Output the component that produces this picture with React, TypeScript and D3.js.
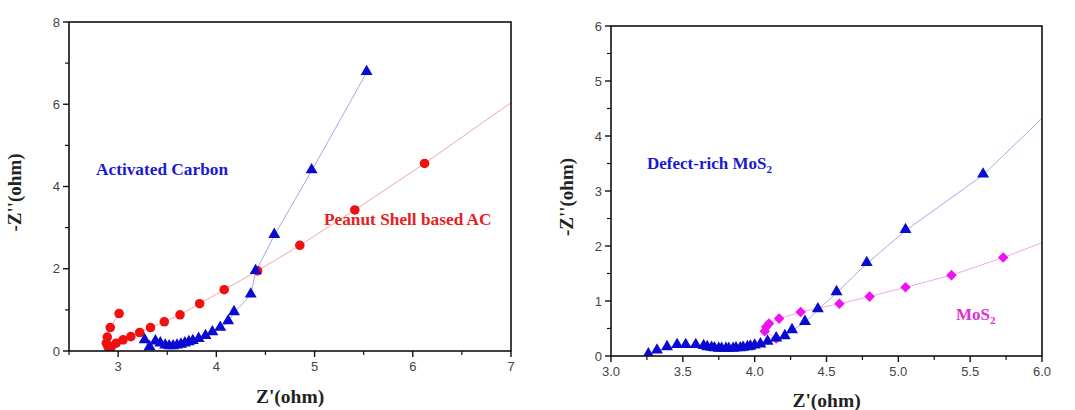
import React from 'react';
import * as d3 from 'd3';

// left panel: Activated Carbon (blue triangles) / Peanut Shell based AC (red circles)
const carbonX = [3.27, 3.32, 3.38, 3.43, 3.48, 3.52, 3.56, 3.60, 3.64, 3.68, 3.72, 3.76, 3.82, 3.89, 3.96, 4.04, 4.12, 4.18, 4.35, 4.40, 4.59, 4.97, 5.53];
const carbonY = [0.25, 0.08, 0.22, 0.17, 0.12, 0.10, 0.10, 0.12, 0.14, 0.17, 0.20, 0.23, 0.28, 0.35, 0.44, 0.55, 0.71, 0.93, 1.36, 1.93, 2.81, 4.38, 6.77];
const peanutX = [3.01, 2.92, 2.89, 2.88, 2.90, 2.93, 2.98, 3.05, 3.13, 3.22, 3.33, 3.47, 3.63, 3.83, 4.08, 4.42, 4.85, 5.41, 6.12, 7.5];
const peanutY = [0.91, 0.57, 0.34, 0.19, 0.09, 0.10, 0.19, 0.27, 0.35, 0.45, 0.57, 0.71, 0.88, 1.15, 1.49, 1.95, 2.57, 3.43, 4.56, 6.88];

// right panel: Defect-rich MoS2 (blue triangles) / MoS2 (magenta diamonds)
const defectX = [3.26, 3.32, 3.39, 3.46, 3.52, 3.59, 3.645, 3.67, 3.70, 3.72, 3.75, 3.77, 3.80, 3.82, 3.85, 3.87, 3.90, 3.92, 3.95, 3.97, 4.00, 4.04, 4.09, 4.15, 4.21, 4.26, 4.35, 4.44, 4.57, 4.78, 5.05, 5.59, 6.25];
const defectY = [0.02, 0.09, 0.15, 0.19, 0.19, 0.19, 0.17, 0.15, 0.14, 0.13, 0.12, 0.12, 0.12, 0.12, 0.12, 0.13, 0.13, 0.14, 0.15, 0.16, 0.18, 0.20, 0.25, 0.31, 0.35, 0.46, 0.61, 0.84, 1.15, 1.68, 2.28, 3.29, 4.95];
const mosX = [4.15, 4.07, 4.08, 4.10, 4.17, 4.32, 4.59, 4.80, 5.05, 5.37, 5.73, 6.3];
const mosY = [0.32, 0.45, 0.53, 0.59, 0.68, 0.80, 0.95, 1.08, 1.25, 1.47, 1.79, 2.36];

const leftXTicks = [3, 4, 5, 6, 7];
const leftXMinor = [2.5, 3.5, 4.5, 5.5, 6.5];
const leftYTicks = [0, 2, 4, 6, 8];
const leftYMinor = [1, 3, 5, 7];
const rightXTicks = [3.0, 3.5, 4.0, 4.5, 5.0, 5.5, 6.0];
const rightXMinor = [3.25, 3.75, 4.25, 4.75, 5.25, 5.75];
const rightYTicks = [0, 1, 2, 3, 4, 5, 6];
const rightYMinor = [0.5, 1.5, 2.5, 3.5, 4.5, 5.5];

const serif = '"Liberation Serif", "Times New Roman", serif';
const sans = '"Liberation Sans", Arial, sans-serif';

type Series = {
  xs: number[];
  ys: number[];
  color: string;
  line: string;
  shape: 'circle' | 'triangle' | 'diamond';
};

const symbolFor = {
  circle: d3.symbol().type(d3.symbolCircle).size(72),
  triangle: d3.symbol().type(d3.symbolTriangle).size(62),
  diamond: d3.symbol().type(d3.symbolSquare).size(56),
};

function Panel(props: {
  id: string;
  left: number; top: number; width: number; height: number;
  xDomain: [number, number]; yDomain: [number, number];
  xTicks: number[]; xMinor: number[]; yTicks: number[]; yMinor: number[];
  xFmt: (d: number) => string;
  yTitleOffset: number; xTitleY: number;
  series: Series[];
  children?: React.ReactNode;
}) {
  const { left, top, width, height } = props;
  const x = d3.scaleLinear().domain(props.xDomain).range([left, left + width]);
  const y = d3.scaleLinear().domain(props.yDomain).range([top + height, top]);
  const lineGen = d3.line<[number, number]>().x(d => x(d[0])).y(d => y(d[1]));
  const bottom = top + height;

  return (
    <g>
      <defs>
        <clipPath id={props.id}>
          <rect x={left} y={top} width={width} height={height} />
        </clipPath>
      </defs>
      <g clipPath={`url(#${props.id})`}>
        {props.series.map((s, i) => (
          <path key={'l' + i} d={lineGen(s.xs.map((v, j) => [v, s.ys[j]]) as [number, number][]) || ''}
            fill="none" stroke={s.line} strokeWidth={1} />
        ))}
        {props.series.map((s, i) =>
          s.xs.map((v, j) => (
            <path key={'m' + i + '-' + j}
              transform={`translate(${x(v)},${y(s.ys[j]) - (s.shape === 'triangle' ? 1 : 0)})${s.shape === 'diamond' ? ' rotate(45)' : ''}`}
              d={symbolFor[s.shape]() || ''} fill={s.color} />
          ))
        )}
      </g>
      <rect x={left} y={top} width={width} height={height} fill="none" stroke="#111" strokeWidth={1.6} />
      {props.xTicks.map(t => (
        <g key={'xt' + t}>
          <line x1={x(t)} x2={x(t)} y1={bottom} y2={bottom + 6} stroke="#111" strokeWidth={1.4} />
          <text x={x(t)} y={bottom + 20} textAnchor="middle" fontFamily={sans} fontSize={13} fill="#444">{props.xFmt(t)}</text>
        </g>
      ))}
      {props.xMinor.map(t => (
        <line key={'xm' + t} x1={x(t)} x2={x(t)} y1={bottom} y2={bottom + 4} stroke="#111" strokeWidth={1.2} />
      ))}
      {props.yTicks.map(t => (
        <g key={'yt' + t}>
          <line x1={left - 6} x2={left} y1={y(t)} y2={y(t)} stroke="#111" strokeWidth={1.4} />
          <text x={left - 9} y={y(t) + 4.5} textAnchor="end" fontFamily={sans} fontSize={13} fill="#444">{t}</text>
        </g>
      ))}
      {props.yMinor.map(t => (
        <line key={'ym' + t} x1={left - 4} x2={left} y1={y(t)} y2={y(t)} stroke="#111" strokeWidth={1.2} />
      ))}
      <text x={left + width / 2} y={props.xTitleY} textAnchor="middle" fontFamily={serif} fontWeight="bold" fontSize={19.5} fill="#222">Z'(ohm)</text>
      <text transform={`translate(${left - props.yTitleOffset},${top + height / 2 + 6}) rotate(-90)`} textAnchor="middle"
        fontFamily={serif} fontWeight="bold" fontSize={19} fill="#222">-Z''(ohm)</text>
      {props.children}
    </g>
  );
}

export default function App() {
  return (
    <svg width={1075} height={410} style={{ position: 'absolute', left: 0, top: 0, background: '#fff' }}>
      <Panel id="clipL" left={69} top={22} width={442} height={329}
        xDomain={[2.5, 7]} yDomain={[0, 8]}
        xTicks={leftXTicks} xMinor={leftXMinor} yTicks={leftYTicks} yMinor={leftYMinor}
        xFmt={d => String(d)} yTitleOffset={48} xTitleY={403}
        series={[
          { xs: peanutX, ys: peanutY, color: '#f01010', line: '#f2a8a8', shape: 'circle' },
          { xs: carbonX, ys: carbonY, color: '#0a0ad0', line: '#a8a8e8', shape: 'triangle' },
        ]}>
        <text x={96} y={175} fontFamily={serif} fontWeight="bold" fontSize={17.3} fill="#1a1ad0">Activated Carbon</text>
        <text x={324} y={225} fontFamily={serif} fontWeight="bold" fontSize={17.3} fill="#e82020">Peanut Shell based AC</text>
      </Panel>
      <Panel id="clipR" left={611} top={26} width={431} height={330}
        xDomain={[3, 6]} yDomain={[0, 6]}
        xTicks={rightXTicks} xMinor={rightXMinor} yTicks={rightYTicks} yMinor={rightYMinor}
        xFmt={d => d.toFixed(1)} yTitleOffset={38} xTitleY={407}
        series={[
          { xs: mosX, ys: mosY, color: '#f010f0', line: '#f2a8e8', shape: 'diamond' },
          { xs: defectX, ys: defectY, color: '#0a0ad0', line: '#a8a8e8', shape: 'triangle' },
        ]}>
        <text x={647} y={169} fontFamily={serif} fontWeight="bold" fontSize={17} fill="#1a1ad0">
          Defect-rich MoS<tspan fontSize={11} dy={4}>2</tspan>
        </text>
        <text x={956} y={320} fontFamily={serif} fontWeight="bold" fontSize={17} fill="#e030d0">
          MoS<tspan fontSize={11} dy={4}>2</tspan>
        </text>
      </Panel>
    </svg>
  );
}
